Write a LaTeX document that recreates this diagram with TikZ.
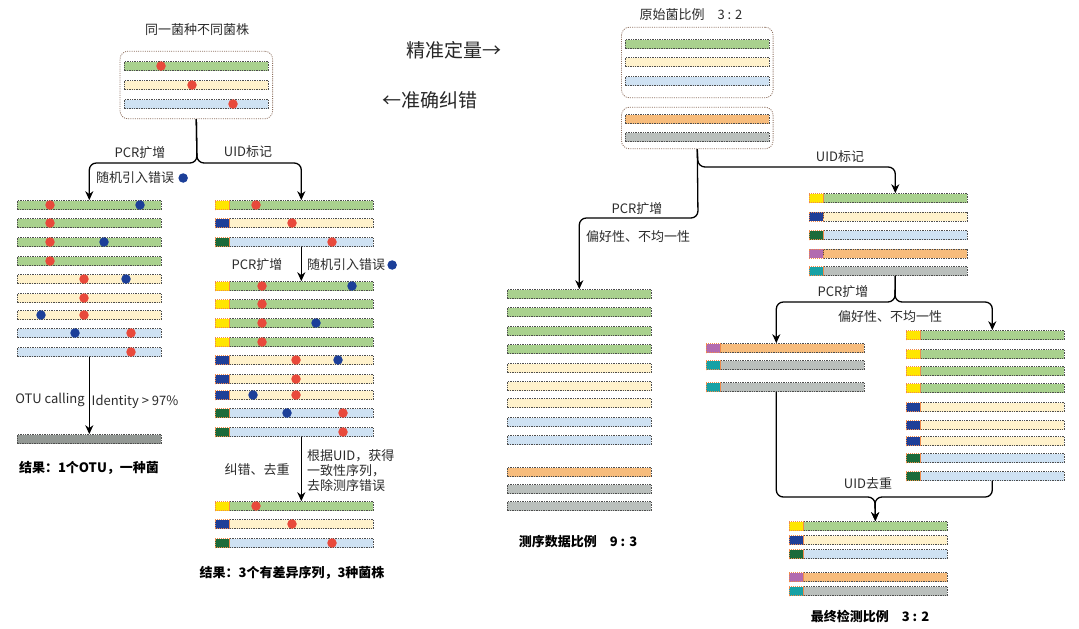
\documentclass[tikz,border=0pt]{standalone}
\usepackage{fontspec}
\setmainfont{Noto Sans CJK SC}
\usepackage{xcolor}
\usetikzlibrary{arrows.meta, positioning, fit}
\definecolor{gfill}{HTML}{A9D18E}
\definecolor{yfill}{HTML}{FFF2CC}
\definecolor{bfill}{HTML}{CFE2F3}
\definecolor{ofill}{HTML}{F7BC7C}
\definecolor{grfill}{HTML}{BABFBC}
\definecolor{otufill}{HTML}{939894}
\definecolor{tyel}{HTML}{FFE600}
\definecolor{tblu}{HTML}{1F3F98}
\definecolor{tgrn}{HTML}{1B6B3A}
\definecolor{tpur}{HTML}{B26BB0}
\definecolor{ttea}{HTML}{17A1A5}
\definecolor{mutred}{HTML}{E8493B}
\definecolor{errblu}{HTML}{1C3F99}
\definecolor{bargray}{HTML}{4D4D4D}
\definecolor{grpbrown}{HTML}{8C6E5D}
\definecolor{tagedge}{HTML}{F08A4B}
\definecolor{txtgray}{HTML}{2B2B2B}

\begin{document}
\begin{tikzpicture}[
  x=1pt, y=-1pt,
  seqbar/.style={rectangle, draw=bargray, dash pattern=on 1.4pt off 1pt, line width=0.6pt,
                 fill=#1, minimum width=144pt, minimum height=9pt, inner sep=0pt, anchor=west},
  uidtag/.style={rectangle, draw=tagedge, dash pattern=on 1.2pt off 0.8pt, line width=0.5pt,
                 fill=#1, minimum width=14pt, minimum height=9pt, inner sep=0pt, anchor=east},
  grpbox/.style={rectangle, rounded corners=8pt, draw=grpbrown, dash pattern=on 1pt off 1.2pt,
                 line width=0.8pt, inner xsep=4pt},
  mut/.style={circle, fill=mutred, minimum size=9.5pt, inner sep=0pt},
  err/.style={circle, fill=errblu, minimum size=9.5pt, inner sep=0pt},
  lbl/.style={font=\fontsize{13}{16}\selectfont, text=txtgray, inner sep=1pt},
  res/.style={font=\fontsize{13}{16}\selectfont\bfseries, text=black, inner sep=1pt},
  big/.style={font=\fontsize{19}{22}\selectfont, text=black!85, inner sep=1pt},
  arr/.style={-{Stealth[length=9pt, width=8pt]}, line width=1.3pt, rounded corners=7pt}
]
\useasboundingbox (0,0) rectangle (1079,629);

% ---- left half: one species, several strains
\node[lbl] (titleA) at (197,30) {同一菌种不同菌株};
\foreach \y/\c [count=\i] in {66/gfill, 85/yfill, 104/bfill}
  \node[seqbar=\c] (T\i) at (124,\y) {};
\node[grpbox, fit=(T1)(T3), inner ysep=10pt] (grpA) {};
\foreach \x/\y [count=\i] in {161/66, 192/85, 233/104}
  \node[mut] (rT\i) at (\x,\y) {};

% PCR branch
\foreach \y/\c [count=\i] in {205/gfill, 223/gfill, 242/gfill, 261/gfill, 279/yfill,
                              298/yfill, 315/yfill, 333/bfill, 352/bfill}
  \node[seqbar=\c] (L\i) at (17,\y) {};
\foreach \x/\y [count=\i] in {50/205, 50/223, 50/242, 50/261, 84/279, 84/298, 84/315, 131/333, 131/352}
  \node[mut] (rL\i) at (\x,\y) {};
\foreach \x/\y [count=\i] in {140/205, 104/242, 126/279, 41/315, 75/333}
  \node[err] (bL\i) at (\x,\y) {};
\node[seqbar=otufill] (otu) at (17,439) {};

% UID branch
\foreach \y/\c/\t [count=\i] in {205/gfill/tyel, 223/yfill/tblu, 242/bfill/tgrn}{
  \node[seqbar=\c] (M\i) at (229,\y) {};
  \node[uidtag=\t] (tM\i) at (M\i.west) {};
}
\foreach \x/\y [count=\i] in {256/205, 292/223, 332/242}
  \node[mut] (rM\i) at (\x,\y) {};
\foreach \y/\c/\t [count=\i] in {286/gfill/tyel, 304/gfill/tyel, 323/gfill/tyel, 342/gfill/tyel,
                                 360/yfill/tblu, 379/yfill/tblu, 395/yfill/tblu,
                                 413/bfill/tgrn, 432/bfill/tgrn}{
  \node[seqbar=\c] (P\i) at (229,\y) {};
  \node[uidtag=\t] (tP\i) at (P\i.west) {};
}
\foreach \x/\y [count=\i] in {262/286, 262/304, 262/323, 262/342, 296/360, 296/379, 296/395, 343/413, 343/432}
  \node[mut] (rP\i) at (\x,\y) {};
\foreach \x/\y [count=\i] in {352/286, 316/323, 338/360, 253/395, 287/413}
  \node[err] (bP\i) at (\x,\y) {};
\foreach \y/\c/\t [count=\i] in {506/gfill/tyel, 524/yfill/tblu, 543/bfill/tgrn}{
  \node[seqbar=\c] (F\i) at (229,\y) {};
  \node[uidtag=\t] (tF\i) at (F\i.west) {};
}
\foreach \x/\y [count=\i] in {256/506, 292/524, 332/543}
  \node[mut] (rF\i) at (\x,\y) {};

\coordinate (jA) at (197,163);
\draw[arr] (grpA.south) -- (jA) -| (L1.north);
\draw[arr] (grpA.south) -- (jA) -| (M1.north);
\draw[arr] (L9.south) -- (otu.north);
\draw[arr] (M3.south) -- (P1.north);
\draw[arr] (P9.south) -- (F1.north);

\node[lbl] (pcrA) at (140,153) {PCR扩增};
\node[lbl] (uidA) at (248,152) {UID标记};
\node[lbl] (errA) at (135,178) {随机引入错误};
\node[err, right=3pt of errA] (bA) {};
\node[lbl] (pcrM) at (257,265) {PCR扩增};
\node[lbl] (errM) at (346,265) {随机引入错误};
\node[err, right=1pt of errM] (bM) {};
\node[lbl] (otuc) at (50,400) {OTU calling};
\node[lbl] (ident) at (135,402) {Identity > 97\%};
\node[lbl] (corr) at (257,470) {纠错、去重};
\node[lbl, align=left, anchor=west, font=\fontsize{13}{15}\selectfont] (cons) at (306,471)
  {根据UID，获得\\一致性序列，\\去除测序错误};
\node[res] (resL) at (89,468) {结果：1个OTU，一种菌};
\node[res] (resM) at (292,573) {结果：3个有差异序列，3种菌株};

\node[big] (quant) at (454,50) {精准定量→};
\node[big] (fix) at (430,100) {←准确纠错};

% ---- right half: two species, ratio 3:2
\node[lbl] (titleC) at (691,15) {原始菌比例\quad 3 : 2};
\foreach \y/\c [count=\i] in {44/gfill, 62/yfill, 81/bfill}
  \node[seqbar=\c] (C\i) at (625,\y) {};
\node[grpbox, fit=(C1)(C3), inner xsep=3.5pt, inner ysep=12pt] (grpC) {};
\foreach \y/\c [count=\i] in {119/ofill, 137/grfill}
  \node[seqbar=\c] (D\i) at (625,\y) {};
\node[grpbox, fit=(D1)(D2), inner xsep=3.5pt, inner ysep=7pt] (grpD) {};

\foreach \y/\c [count=\i] in {294/gfill, 312/gfill, 331/gfill, 349/gfill, 368/yfill, 386/yfill,
                              403/yfill, 422/bfill, 440/bfill, 472/ofill, 489/grfill, 506/grfill}
  \node[seqbar=\c] (S\i) at (507,\y) {};

\foreach \y/\c/\t [count=\i] in {198/gfill/tyel, 216.5/yfill/tblu, 235/bfill/tgrn,
                                 253.5/ofill/tpur, 271/grfill/ttea}{
  \node[seqbar=\c] (U\i) at (823,\y) {};
  \node[uidtag=\t] (tU\i) at (U\i.west) {};
}
\foreach \y/\c/\t [count=\i] in {348/ofill/tpur, 365/grfill/ttea, 387/grfill/ttea}{
  \node[seqbar=\c] (A\i) at (720,\y) {};
  \node[uidtag=\t] (tA\i) at (A\i.west) {};
}
\foreach \y/\c/\t [count=\i] in {335/gfill/tyel, 354/gfill/tyel, 371/gfill/tyel, 388/gfill/tyel,
                                 407/yfill/tblu, 425/yfill/tblu, 441/yfill/tblu,
                                 458/bfill/tgrn, 476/bfill/tgrn}{
  \node[seqbar=\c] (B\i) at (920,\y) {};
  \node[uidtag=\t] (tB\i) at (B\i.west) {};
}
\foreach \y/\c/\t [count=\i] in {526/gfill/tyel, 540/yfill/tblu, 554/bfill/tgrn,
                                 577/ofill/tpur, 591/grfill/ttea}{
  \node[seqbar=\c] (R\i) at (803,\y) {};
  \node[uidtag=\t] (tR\i) at (R\i.west) {};
}

\coordinate (jD) at (698,167);
\coordinate (kD) at (698,218);
\coordinate (jE) at (895,302);
\coordinate (jG) at (875,497);
\draw[arr] (grpD.south) -- (jD) -| (U1.north);
\draw[arr] (grpD.south) -- (kD) -| (S1.north);
\draw[arr] (U5.south) -- (jE) -| ([xshift=-16pt]A1.north);
\draw[arr] (U5.south) -- (jE) -| (B1.north);
\draw[arr] ([xshift=-16pt]A3.south) |- (jG) -- (R1.north);
\draw[arr] (B9.south) |- (jG) -- (R1.north);

\node[lbl] (uidC) at (840,157) {UID标记};
\node[lbl] (pcrS) at (637,209) {PCR扩增};
\node[lbl] (biasS) at (638,237) {偏好性、不均一性};
\node[lbl] (pcrU) at (843,292) {PCR扩增};
\node[lbl] (biasU) at (890,317) {偏好性、不均一性};
\node[lbl] (dedup) at (868,483) {UID去重};
\node[res] (resS) at (578,542) {测序数据比例\quad 9 : 3};
\node[res] (resR) at (870,616) {最终检测比例\quad 3 : 2};
\end{tikzpicture}
\end{document}
